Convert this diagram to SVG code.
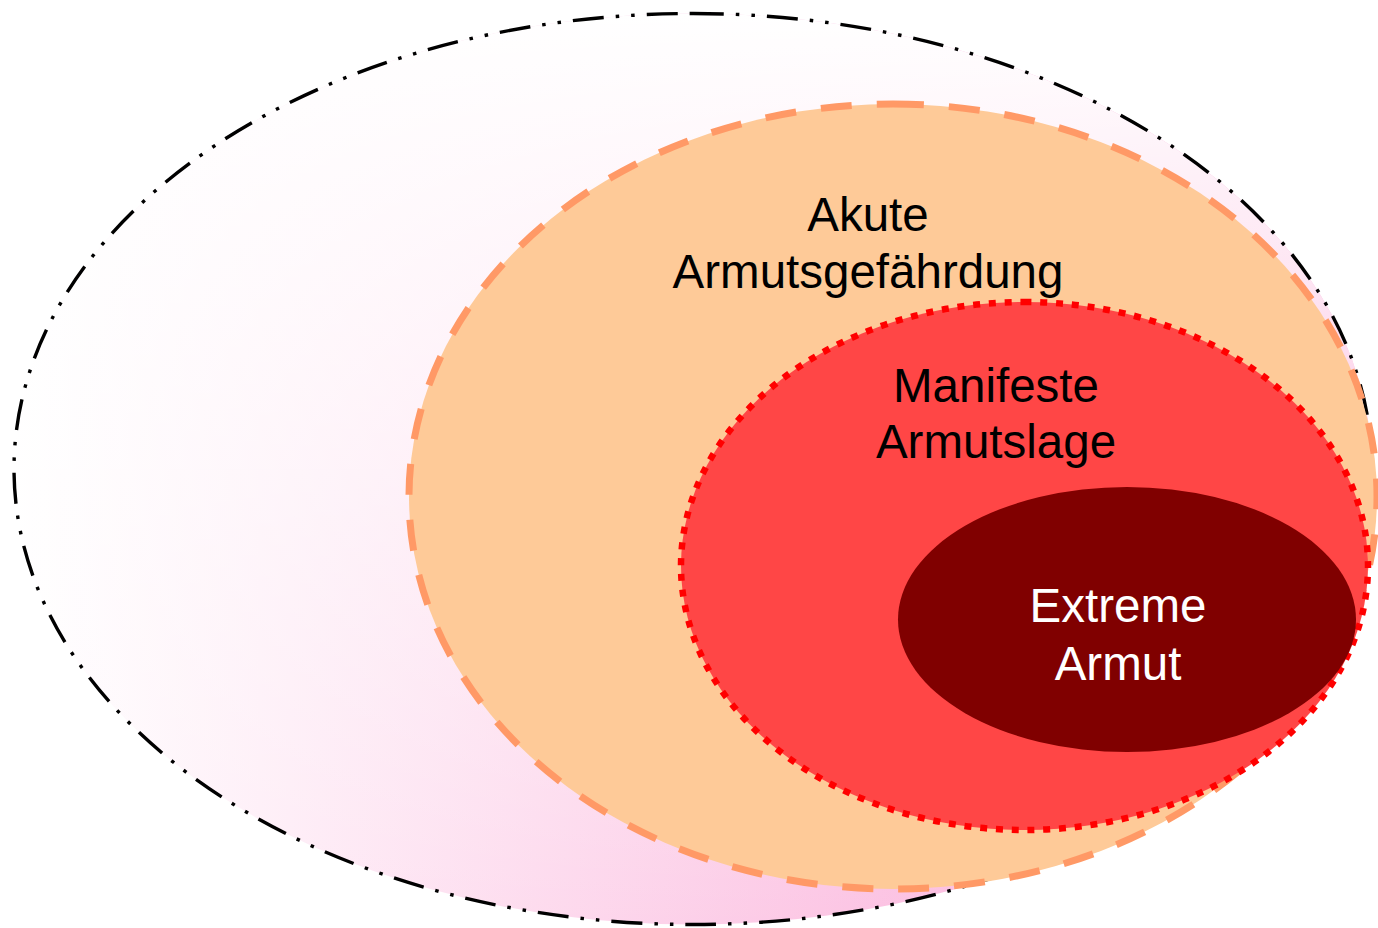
<svg xmlns="http://www.w3.org/2000/svg" width="1378" height="928" viewBox="0 0 1378 928">
<defs>
<linearGradient id="pinkH" gradientUnits="userSpaceOnUse" x1="15" y1="0" x2="1371" y2="0">
<stop offset="0" stop-color="#FFFFFF"/>
<stop offset="1" stop-color="#FAA1D3"/>
</linearGradient>
<linearGradient id="whiteV" gradientUnits="userSpaceOnUse" x1="0" y1="13" x2="0" y2="925">
<stop offset="0" stop-color="#FFFFFF" stop-opacity="1"/>
<stop offset="1" stop-color="#FFFFFF" stop-opacity="0"/>
</linearGradient>
<style>
.lbl { font-family: "Liberation Sans", Arial, sans-serif; font-size: 47.5px; text-anchor: middle; }
.dark { fill: #000000; }
.light { fill: #FFFFFF; }
</style>
</defs>
<rect width="1378" height="928" fill="#FFFFFF"/>
<g id="node-outer">
<ellipse cx="693" cy="469" rx="679" ry="455.5" fill="url(#pinkH)"/>
<ellipse cx="693" cy="469" rx="679" ry="455.5" fill="url(#whiteV)"/>
<path d="M 693 13.5 A 679 455.5 0 0 1 693 924.5 A 679 455.5 0 0 1 693 13.5 Z" fill="none" stroke="#000000" stroke-width="3.4" stroke-dasharray="31 12 3.5 12 3.5 12"/>
</g>
<g id="node-akute">
<path d="M 893 104 A 484 392.5 0 0 1 893 889 A 484 392.5 0 0 1 893 104 Z" fill="#FECA98" stroke="#FF9966" stroke-width="7" stroke-dasharray="31 25"/>
<text class="lbl dark" x="868" y="231">Akute</text>
<text class="lbl dark" x="868" y="288">Armutsgefährdung</text>
</g>
<g id="node-manifest">
<path d="M 1024.5 302 A 343.5 264 0 0 1 1024.5 830 A 343.5 264 0 0 1 1024.5 302 Z" fill="#FF4646" stroke="#FF0000" stroke-width="6.5" stroke-dasharray="7 8.8"/>
<text class="lbl dark" x="996" y="402">Manifeste</text>
<text class="lbl dark" x="996" y="458">Armutslage</text>
</g>
<g id="node-extreme">
<ellipse cx="1127" cy="619.5" rx="229" ry="132.5" fill="#800000"/>
<text class="lbl light" x="1118" y="622">Extreme</text>
<text class="lbl light" x="1118" y="680">Armut</text>
</g>
<g id="connectors"></g>
</svg>
